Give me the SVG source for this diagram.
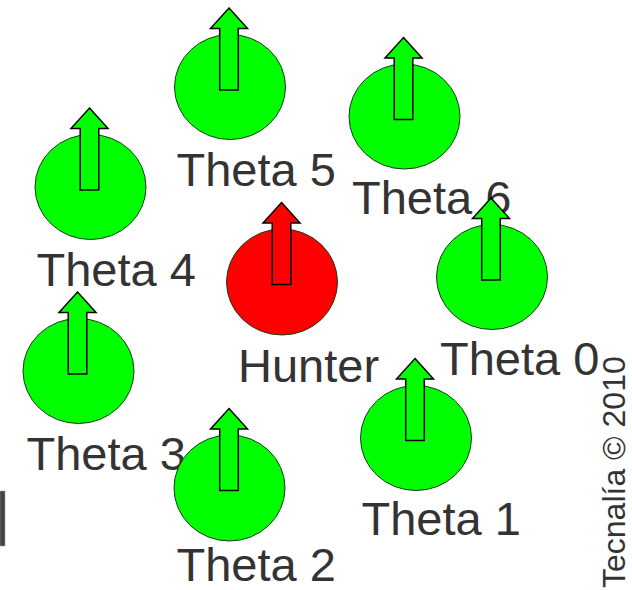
<svg xmlns="http://www.w3.org/2000/svg" width="632" height="590" viewBox="0 0 632 590">
<style>
.lbl{font-family:"Liberation Sans",Arial,sans-serif;font-size:47px;fill:#333333}
.g{fill:#00ff00}
.r{fill:#ff0000}
.body{stroke:#1a3a1a;stroke-width:1}
.arr{stroke:#000000;stroke-width:1.5;stroke-linejoin:miter}
.copy{font-family:"Liberation Sans",Arial,sans-serif;font-size:32px;fill:#333333}
</style>
<defs>
<path id="arrow" d="M0,0 L18.5,20.5 L9.3,20.5 L9.3,82 L-9.3,82 L-9.3,20.5 L-18.5,20.5 Z"/>
</defs>
<rect width="632" height="590" fill="#ffffff"/>
<g id="theta5">
<text class="lbl" x="176.5" y="186">Theta 5</text>
<ellipse class="g body" cx="230" cy="87" rx="55.5" ry="52.5"/>
<use href="#arrow" class="g arr" x="229" y="8"/>
</g>
<g id="theta6">
<text class="lbl" x="352" y="214">Theta 6</text>
<ellipse class="g body" cx="404.5" cy="116.5" rx="55.5" ry="52.5"/>
<use href="#arrow" class="g arr" x="403.5" y="37.5"/>
</g>
<g id="theta4">
<text class="lbl" x="36.5" y="286">Theta 4</text>
<ellipse class="g body" cx="90.5" cy="187" rx="55.5" ry="52.5"/>
<use href="#arrow" class="g arr" x="89.5" y="108"/>
</g>
<g id="theta3">
<text class="lbl" x="26.5" y="470">Theta 3</text>
<ellipse class="g body" cx="78.5" cy="371" rx="55.5" ry="52.5"/>
<use href="#arrow" class="g arr" x="77.5" y="292"/>
</g>
<g id="hunter">
<text class="lbl" x="238" y="382">Hunter</text>
<ellipse class="r body" cx="282" cy="282" rx="55.5" ry="53"/>
<use href="#arrow" class="r arr" x="281.5" y="202.5"/>
</g>
<g id="theta0">
<text class="lbl" x="440" y="375">Theta 0</text>
<ellipse class="g body" cx="492" cy="277" rx="55.5" ry="52.5"/>
<use href="#arrow" class="g arr" x="491" y="198"/>
</g>
<g id="theta1">
<text class="lbl" x="361.5" y="535">Theta 1</text>
<ellipse class="g body" cx="416" cy="438" rx="55.5" ry="52.5"/>
<use href="#arrow" class="g arr" x="415" y="358.5"/>
</g>
<g id="theta2">
<text class="lbl" x="176.5" y="581">Theta 2</text>
<ellipse class="g body" cx="229.5" cy="488" rx="55.5" ry="53"/>
<use href="#arrow" class="g arr" x="229" y="408.5"/>
</g>
<g id="copyright">
<text class="copy" transform="translate(625,588) rotate(-90)">Tecnalía © 2010</text>
</g>
<rect x="0" y="491" width="5" height="55" fill="#444444" stroke="#999999" stroke-width="0.5"/>
</svg>
